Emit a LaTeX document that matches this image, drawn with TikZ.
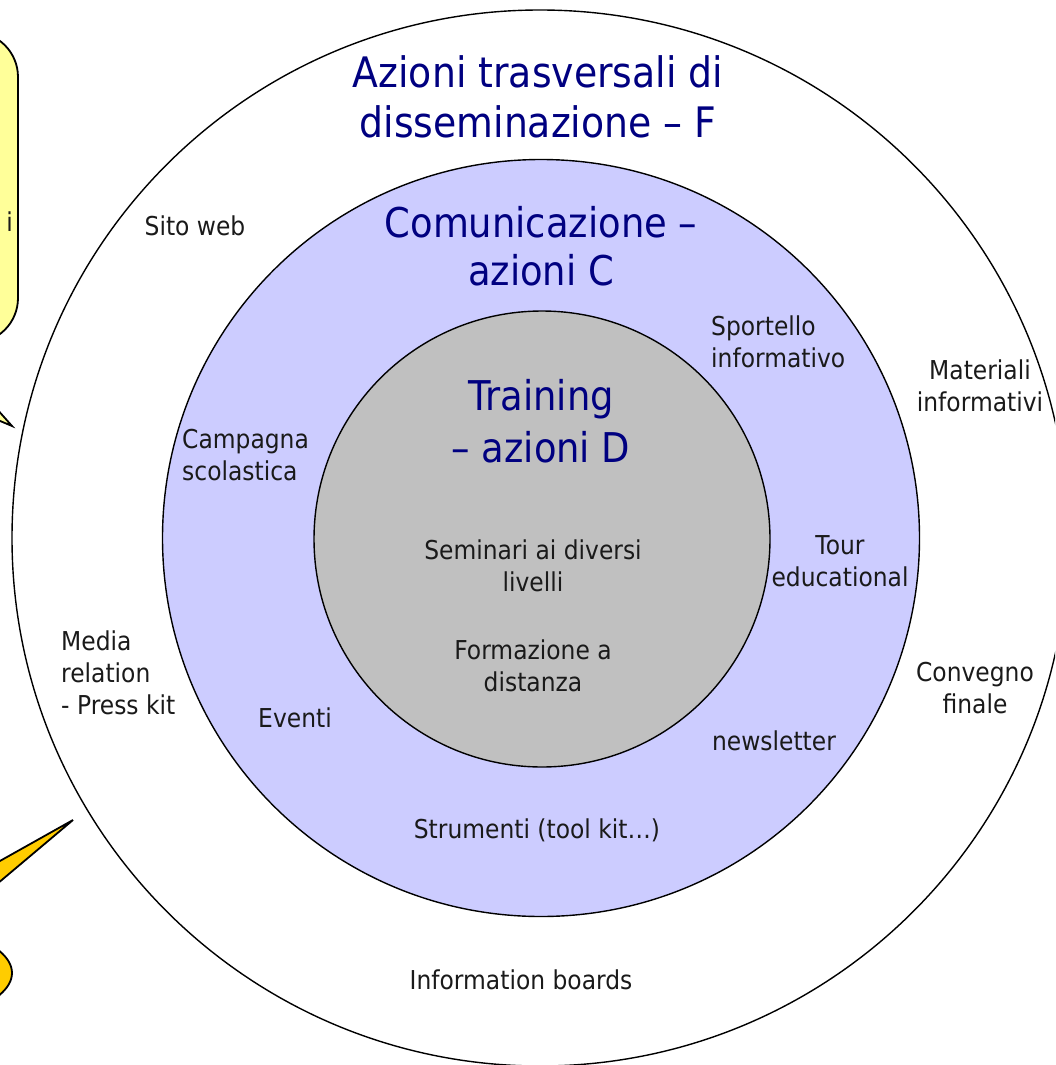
\documentclass[tikz,border=0pt]{standalone}
\usepackage{fontspec}
\usetikzlibrary{shapes.geometric}
\setmainfont{DejaVu Sans}[FakeStretch=0.9]
\definecolor{navy}{HTML}{000080}
\definecolor{lilac}{HTML}{CCCCFF}
\definecolor{greyfill}{HTML}{C0C0C0}
\definecolor{paleyellow}{HTML}{FFFF99}
\definecolor{amber}{HTML}{FFCC00}
\definecolor{txt}{HTML}{1A1A1A}
\begin{document}
\begin{tikzpicture}[x=1pt,y=-1pt,
  ring/.style={draw=black,line width=1.4pt},
  small/.style={inner sep=0pt,text=txt,font=\fontsize{26}{32}\selectfont},
  title/.style={inner sep=0pt,text=navy,align=center}]
\useasboundingbox (0,0) rectangle (1055,1065);
\clip (0,0) rectangle (1055,1065);
% rings
\node[ring,circle,minimum size=1056pt,inner sep=0pt] (outer) at (540,538) {};
\node[ring,circle,fill=lilac,minimum size=757pt,inner sep=0pt] (mid) at (541,538) {};
\node[ring,circle,fill=greyfill,minimum size=456pt,inner sep=0pt] (inner) at (542,539) {};
% callouts on the left
\draw[line width=1.8pt,fill=paleyellow] (-60,345) -- (12,426) -- (-180,345) -- cycle;
\node[draw=black,line width=1.8pt,fill=paleyellow,rounded corners=45pt,minimum width=400pt,minimum height=311pt,inner sep=0pt] (yellowbox) at (-182,187.5) {};
\node[small,anchor=east] (clipped) at (13,222) {i};
\draw[line width=1.8pt,fill=amber] (73,820) -- (-100,917) -- (-60,932) -- cycle;
\node[draw=black,line width=1.8pt,fill=amber,ellipse,minimum width=324pt,minimum height=114pt,inner sep=0pt] (amberblob) at (-150,973) {};
% titles
\node[title,font=\fontsize{42}{50}\selectfont] (tF) at (538,97) {Azioni trasversali di\\disseminazione -- F};
\node[title,font=\fontsize{41}{48}\selectfont] (tC) at (541,246) {Comunicazione --\\azioni C};
\node[title,font=\fontsize{41}{52}\selectfont] (tD) at (541,421) {Training\\-- azioni D};
% labels
\node[small] (sito) at (195,226) {Sito web};
\node[small,anchor=west,align=left] (sportello) at (711,342) {Sportello\\informativo};
\node[small,align=center] (materiali) at (980,386) {Materiali\\informativi};
\node[small,anchor=west,align=left] (campagna) at (182,455) {Campagna\\scolastica};
\node[small,align=center] (seminari) at (533,566) {Seminari ai diversi\\livelli};
\node[small,align=center] (tour) at (840,561) {Tour\\educational};
\node[small,align=center] (formazione) at (533,666) {Formazione a\\distanza};
\node[small,anchor=west,align=left] (media) at (61,673) {Media\\relation\\- Press kit};
\node[small,align=center] (convegno) at (975,688) {Convegno\\finale};
\node[small] (eventi) at (295,718) {Eventi};
\node[small] (newsletter) at (774,741) {newsletter};
\node[small] (strumenti) at (537,830) {Strumenti (tool kit\dots)};
\node[small] (boards) at (521,980) {Information boards};
\end{tikzpicture}
\end{document}
